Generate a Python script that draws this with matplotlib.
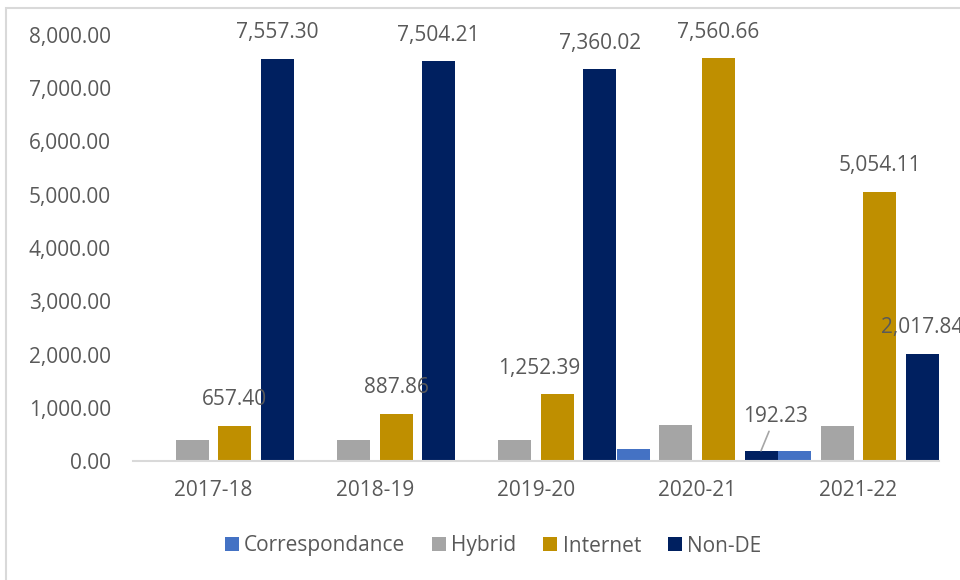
import numpy as np
import matplotlib.pyplot as plt
from matplotlib.patches import Rectangle

plt.rcParams['font.family'] = ['Open Sans', 'DejaVu Sans']

# data per mode of delivery
years = ['2017-18', '2018-19', '2019-20', '2020-21', '2021-22']
correspondance = [0, 0, 0, 220, 190]
hybrid = [394, 390, 390, 684, 655]
internet = [657.40, 887.86, 1252.39, 7560.66, 5054.11]
non_de = [7557.30, 7504.21, 7360.02, 192.23, 2017.84]

series = ['Correspondance', 'Hybrid', 'Internet', 'Non-DE']
values = [correspondance, hybrid, internet, non_de]
colors = ['#4472C4', '#A5A5A5', '#BF8F00', '#002060']
show_labels = [False, False, True, True]

txt = '#595959'
fs = 15

fig = plt.figure(figsize=(9.6, 5.8), dpi=100)
ax = fig.add_axes([133 / 960, 1 - 461 / 580, 806 / 960, 426 / 580])

x = np.arange(len(years))
slot = 0.264
width = 0.205

for k, (name, vals, col) in enumerate(zip(series, values, colors)):
    xs = x + (k - 1.5) * slot
    ax.bar(xs, vals, width, color=col, label=name, zorder=2)
    if not show_labels[k]:
        continue
    for xi, v in zip(xs, vals):
        dx, dy = 0, 26
        if v == 1252.39:
            dx = -18
        if v == 192.23:
            dx, dy = 14, 34
        kw = {}
        if v == 192.23:
            # leader line back to the short bar
            kw['arrowprops'] = dict(arrowstyle='-', color='#A6A6A6', lw=1.2,
                                    shrinkA=1, shrinkB=0)
        ax.annotate(f'{v:,.2f}', xy=(xi, v), xytext=(dx * 0.72, dy * 0.72),
                    textcoords='offset points', ha='center', va='center',
                    fontsize=fs, color=txt, annotation_clip=False, **kw)

ax.set_xlim(-0.5, len(years) - 0.5)
ax.set_ylim(0, 8000)
ax.set_yticks(np.arange(0, 8001, 1000))
ax.set_yticklabels([f'{t:,.2f}' for t in np.arange(0, 8001, 1000)])
ax.set_xticks(x)
ax.set_xticklabels(years)
ax.tick_params(length=0, labelsize=fs, labelcolor=txt)
ax.tick_params(axis='y', pad=16)
ax.tick_params(axis='x', pad=14)
for s in ['top', 'right', 'left']:
    ax.spines[s].set_visible(False)
ax.spines['bottom'].set_color('#D9D9D9')
ax.spines['bottom'].set_linewidth(1.5)
ax.spines['bottom'].set_zorder(3)

fig.legend(loc='center', bbox_to_anchor=(493 / 960, 1 - 546 / 580), ncol=4,
           frameon=False, fontsize=fs, labelcolor=txt, handlelength=0.67,
           handleheight=0.67, handletextpad=0.25, columnspacing=1.3)

# chart border
fig.patches.append(Rectangle((6 / 960, -0.1), 1.2, 1 - 8 / 580 + 0.1,
                             transform=fig.transFigure, fill=False,
                             edgecolor='#D9D9D9', lw=1.5))

fig.savefig('out.png', dpi=100)
